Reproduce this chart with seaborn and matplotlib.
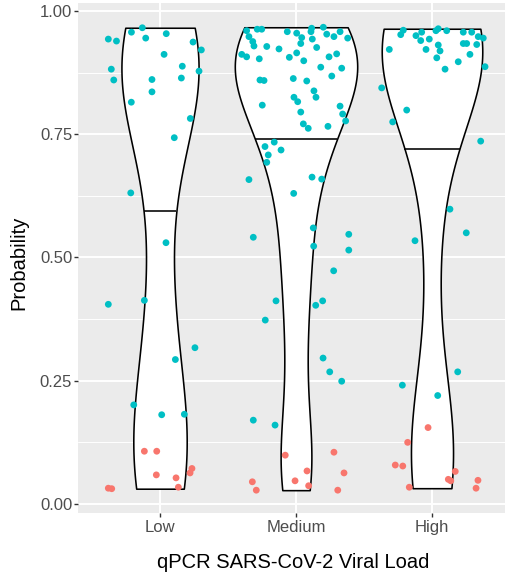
import numpy as np
import pandas as pd
import matplotlib
matplotlib.use("Agg")
import matplotlib.pyplot as plt
from matplotlib.ticker import MultipleLocator
import seaborn as sns

# ── Data ─────────────────────────────────────────────────────────────────────
GROUPS = ["Low", "Medium", "High"]

low_teal_y = [0.943, 0.939, 0.957, 0.966, 0.945, 0.954, 0.937, 0.921, 0.912, 0.882,
              0.860, 0.888, 0.878, 0.861, 0.864, 0.836, 0.815, 0.782, 0.743, 0.631,
              0.530, 0.405, 0.413, 0.317, 0.293, 0.201, 0.181, 0.182]
low_teal_dx = [-0.38, -0.32, -0.21, -0.13, -0.105, 0.046, 0.243, 0.304, 0.03, -0.358,
               -0.34, 0.164, 0.287, -0.059, 0.157, -0.059, -0.211, 0.223, 0.105, -0.215,
               0.044, -0.38, -0.115, 0.257, 0.113, -0.193, 0.0125, 0.179]
low_red_y = [0.107, 0.107, 0.059, 0.053, 0.063, 0.072, 0.034, 0.032, 0.031]
low_red_dx = [-0.115, -0.024, -0.027, 0.118, 0.221, 0.235, 0.135, -0.38, -0.355]

med_teal_y = [0.960, 0.948, 0.938, 0.929, 0.963, 0.963, 0.912, 0.907, 0.903, 0.928,
              0.923, 0.958, 0.955, 0.946, 0.934, 0.915, 0.906, 0.899, 0.965, 0.958,
              0.943, 0.967, 0.953, 0.948, 0.958, 0.945, 0.926, 0.913, 0.907, 0.886,
              0.884, 0.860, 0.859, 0.863, 0.858, 0.868, 0.838, 0.825, 0.825, 0.816,
              0.809, 0.795, 0.807, 0.791, 0.777, 0.771, 0.762, 0.766, 0.725, 0.734,
              0.718, 0.708, 0.693, 0.658, 0.663, 0.659, 0.630, 0.541, 0.560, 0.523,
              0.547, 0.515, 0.473, 0.412, 0.403, 0.412, 0.373, 0.296, 0.268, 0.249,
              0.170, 0.160]
med_teal_dx = [-0.363, -0.346, -0.318, -0.309, -0.285, -0.252, -0.399, -0.363, -0.270, -0.215,
               -0.125, -0.064, 0.005, 0.042, 0.035, 0.005, -0.049, 0.057, 0.115, 0.110,
               0.120, 0.201, 0.226, 0.279, 0.324, 0.380, 0.152, 0.299, 0.243, 0.182,
               0.336, -0.265, -0.235, -0.020, 0.079, 0.263, 0.132, 0.147, -0.015, 0.0125,
               -0.248, 0.035, 0.324, 0.343, 0.365, 0.054, 0.090, 0.235, -0.228, -0.160,
               -0.110, -0.204, -0.215, -0.346, 0.118, 0.189, -0.017, -0.314, 0.127, 0.130,
               0.388, 0.388, 0.277, -0.147, 0.145, 0.196, -0.226, 0.199, 0.248, 0.336,
               -0.314, -0.154]
med_red_y = [0.099, 0.105, 0.063, 0.067, 0.047, 0.037, 0.045, 0.028, 0.028]
med_red_dx = [-0.079, 0.279, 0.353, 0.081, -0.007, 0.093, -0.321, -0.292, 0.307]

high_teal_y = [0.922, 0.952, 0.961, 0.950, 0.940, 0.957, 0.943, 0.922, 0.960, 0.964,
               0.960, 0.931, 0.919, 0.905, 0.882, 0.957, 0.957, 0.948, 0.945, 0.934,
               0.934, 0.932, 0.912, 0.897, 0.887, 0.844, 0.799, 0.775, 0.736, 0.598,
               0.534, 0.550, 0.241, 0.268, 0.220]
high_teal_dx = [-0.314, -0.230, -0.211, -0.118, -0.083, -0.076, -0.020, -0.044, 0.029, 0.046,
                0.108, 0.046, 0.059, 0.035, 0.096, 0.230, 0.292, 0.340, 0.377, 0.230,
                0.255, 0.329, 0.279, 0.193, 0.390, -0.370, -0.186, -0.289, 0.358, 0.132,
                -0.125, 0.252, -0.218, 0.189, 0.042]
high_red_y = [0.155, 0.125, 0.079, 0.077, 0.066, 0.050, 0.047, 0.034, 0.048, 0.032]
high_red_dx = [-0.029, -0.179, -0.270, -0.215, 0.171, 0.120, 0.138, -0.167, 0.338, 0.324]

Y_TICKS = [0.00, 0.25, 0.50, 0.75, 1.00]
TEAL, SALMON = "#00BFC4", "#F8766D"
LW = 1.15

# ── Build long table ─────────────────────────────────────────────────────────
rows = []
for grp, parts in zip(GROUPS, [
        [(low_teal_y, low_teal_dx, "pos"), (low_red_y, low_red_dx, "neg")],
        [(med_teal_y, med_teal_dx, "pos"), (med_red_y, med_red_dx, "neg")],
        [(high_teal_y, high_teal_dx, "pos"), (high_red_y, high_red_dx, "neg")]]):
    for ys, dxs, cls in parts:
        for y, dx in zip(ys, dxs):
            rows.append({"load": grp, "prob": y, "dx": dx, "cls": cls})
df = pd.DataFrame(rows)
df["xpos"] = df["load"].map({g: i for i, g in enumerate(GROUPS)}) + df["dx"]


def nrd0(kde):
    """R's default bandwidth (bw.nrd0) as a factor of the sample sd."""
    d = kde.dataset.ravel()
    sd = d.std(ddof=1)
    q75, q25 = np.percentile(d, [75, 25])
    return 0.9 * min(sd, (q75 - q25) / 1.34) * len(d) ** -0.2 / sd


def draw_median(ax, coll, center):
    """Median of the violin's own density (like ggplot's draw_quantiles)."""
    verts = coll.get_paths()[0].vertices
    right = verts[verts[:, 0] > center + 1e-6]
    order = np.argsort(right[:, 1], kind="stable")
    ys, ws = right[order, 1], right[order, 0] - center
    area = np.concatenate([[0], np.cumsum(np.diff(ys) * (ws[1:] + ws[:-1]) / 2)])
    ym = np.interp(area[-1] / 2, area, ys)
    wm = np.interp(ym, ys, ws)
    ax.plot([center - wm, center + wm], [ym, ym], color="black", lw=LW,
            solid_capstyle="butt", zorder=2)


# ── Plot ─────────────────────────────────────────────────────────────────────
sns.set_theme(style="darkgrid", rc={
    "axes.facecolor": "#EBEBEB", "grid.color": "white",
    "xtick.color": "#333333", "ytick.color": "#333333",
    "xtick.labelcolor": "#4D4D4D", "ytick.labelcolor": "#4D4D4D",
})
plt.rcParams["font.family"] = ["Liberation Sans", "DejaVu Sans"]

fig = plt.figure(figsize=(5.06, 5.75), dpi=100)
ax = fig.add_axes([78.4 / 506, 62 / 575, 435.2 / 506, 510 / 575])

sns.violinplot(data=df, x="load", y="prob", order=GROUPS, ax=ax,
               cut=0, inner=None, density_norm="area", width=0.9,
               bw_method=nrd0, gridsize=300, color="white", saturation=1,
               linecolor="black", linewidth=LW)
violins = list(ax.collections)
for i, coll in enumerate(violins):
    draw_median(ax, coll, i)

sns.scatterplot(data=df, x="xpos", y="prob", hue="cls",
                palette={"pos": TEAL, "neg": SALMON}, s=24, linewidth=0,
                legend=False, ax=ax, zorder=3)

ax.set_xlim(-0.6, 2.6)
ax.set_ylim(-0.0183, 1.0162)
ax.set_xticks(range(len(GROUPS)))
ax.set_xticklabels(GROUPS)
ax.set_yticks(Y_TICKS)
ax.set_yticklabels([f"{t:.2f}" for t in Y_TICKS])
ax.yaxis.set_minor_locator(MultipleLocator(0.125))
ax.grid(True, which="major", color="white", lw=1.4)
ax.grid(True, which="minor", axis="y", color="white", lw=0.7)
ax.set_axisbelow(True)
for s in ax.spines.values():
    s.set_visible(False)

ax.tick_params(which="major", length=3, width=1.0, labelsize=12, pad=1.5,
               bottom=True, left=True)
ax.tick_params(axis="x", which="major", pad=2.2)
ax.tick_params(which="minor", length=0)

ax.set_xlabel("qPCR SARS-CoV-2 Viral Load", fontsize=14.5, color="black")
ax.set_ylabel("Probability", fontsize=14.5, color="black")
ax.xaxis.set_label_coords(0.494, -0.098)
ax.xaxis.label.set_va("center")
ax.yaxis.set_label_coords(-0.1365, 0.49)
ax.yaxis.label.set_va("center")

fig.savefig("out.png", dpi=100)
